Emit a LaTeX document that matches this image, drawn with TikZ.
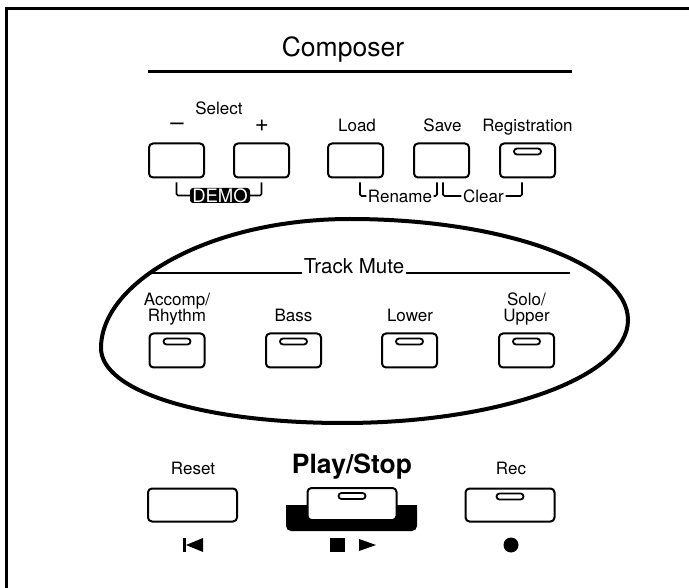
\documentclass[tikz,border=0pt]{standalone}
\usepackage{fontspec}
\setmainfont{TeX Gyre Heros}
\begin{document}
\begin{tikzpicture}[x=1pt,y=-1pt,
  btn/.style={draw,line width=2pt,rounded corners=4pt,fill=white,minimum width=55pt,minimum height=34pt,inner sep=0pt},
  wbtn/.style={btn,minimum width=89pt,minimum height=33pt},
  slot/.style={draw,line width=1.8pt,rounded corners=3pt,minimum width=27pt,minimum height=6pt,inner sep=0pt},
  lbl/.style={font=\fontsize{17}{17}\selectfont,inner sep=0pt,anchor=base},
  brk/.style={line width=1.6pt,rounded corners=1.5pt},
  gline/.style={line width=1.5pt}]
\useasboundingbox (0,0) rectangle (689,588);
% frame
\draw[line width=3pt] (689,8.5) -- (6.5,8.5) -- (6.5,588);
% title
\node[font=\fontsize{26.5}{26.5}\selectfont,inner sep=0pt,anchor=base] (title) at (343,57) {Composer};
\coordinate (tl) at (148,72);
\coordinate (tr) at (572,72);
\draw[line width=3pt] (tl) -- (tr);
% Select group
\node[lbl] (select) at (219,115) {Select};
\node[font=\fontsize{24}{24}\selectfont,inner sep=0pt] (minus) at (177,127) {–};
\node[font=\fontsize{24}{24}\selectfont,inner sep=0pt] (plus) at (262,126) {+};
\node[btn] (selm) at (176.5,160.5) {};
\node[btn] (selp) at (261.5,160.5) {};
\node[fill=black,text=white,rounded corners=3pt,inner sep=0pt,minimum width=60pt,minimum height=15pt,font=\fontsize{18.5}{18.5}\selectfont] (demo) at (220,195.5) {DEMO};
\draw[brk] ([yshift=-4pt]selm.south) |- (demo.west);
\draw[brk] ([yshift=-4pt]selp.south) |- (demo.east);
% Load / Save / Registration
\node[lbl] (loadl) at (357,132) {Load};
\node[lbl] (savel) at (442.5,132) {Save};
\node[lbl] (regl) at (527.5,132) {Registration};
\node[btn] (load) at (355.5,160.5) {};
\node[btn] (save) at (441.5,160.5) {};
\node[btn] (reg) at (527.5,160.5) {};
\node[slot] (regs) at ([yshift=-9pt]reg.north) {};
\node[font=\fontsize{17}{17}\selectfont,inner sep=1.5pt] (rename) at (400,196) {Rename};
\node[font=\fontsize{17}{17}\selectfont,inner sep=1.5pt] (clear) at (483.5,196) {Clear};
\draw[brk] ([xshift=4.5pt,yshift=-4pt]load.south) |- (rename.west);
\draw[brk] ([xshift=-4.5pt,yshift=-4pt]save.south) |- (rename.east);
\draw[brk] ([xshift=1.5pt,yshift=-4pt]save.south) |- (clear.west);
\draw[brk] ([xshift=-5.5pt,yshift=-4pt]reg.south) |- (clear.east);
% Track Mute ellipse
\draw[line width=4pt] (628,320)
  .. controls (628,264) and (503,219) .. (350,219)
  .. controls (210,219) and (101,282) .. (101,348)
  .. controls (101,392) and (205,423) .. (343,423)
  .. controls (500,423) and (628,377) .. (628,320) -- cycle;
\node[font=\fontsize{20.5}{20.5}\selectfont,inner sep=2pt,anchor=base] (tm) at (354,274) {Track Mute};
\coordinate (tmL) at (148,273);
\coordinate (tmR) at (570,273);
\draw[gline] (tmL) -- (tmL -| tm.west);
\draw[gline] (tmR) -- (tmR -| tm.east);
\node[lbl] (accA) at (177,306) {Accomp/};
\node[lbl] (accB) at (177,322) {Rhythm};
\node[lbl] (bassl) at (293.5,322) {Bass};
\node[lbl] (lowerl) at (410,322) {Lower};
\node[lbl] (soloA) at (526.5,306) {Solo/};
\node[lbl] (soloB) at (526.5,322) {Upper};
\node[btn] (acc) at (177,350.5) {};
\node[btn] (bass) at (293.5,350.5) {};
\node[btn] (lower) at (409.5,350.5) {};
\node[btn] (solo) at (526.5,350.5) {};
\node[slot] (accs) at ([yshift=-9pt]acc.north) {};
\node[slot] (basss) at ([yshift=-9pt]bass.north) {};
\node[slot] (lowers) at ([yshift=-9pt]lower.north) {};
\node[slot] (solos) at ([yshift=-9pt]solo.north) {};
% bottom row
\node[lbl] (resetl) at (193,474) {Reset};
\node[font=\fontsize{26.5}{26.5}\selectfont\bfseries,inner sep=0pt,anchor=base] (playl) at (352,473) {Play/Stop};
\node[lbl] (recl) at (511,474) {Rec};
\node[wbtn] (reset) at (192.5,505) {};
\fill (286,505) -- (286,520) [rounded corners=5pt] -- (286,531) -- (417,531) [sharp corners] -- (417,520) -- (417,505) -- cycle;
\node[wbtn,minimum height=32pt] (play) at (352,504) {};
\node[wbtn] (rec) at (510,505) {};
\node[slot] (plays) at ([yshift=-9pt]play.north) {};
\node[slot] (recs) at ([yshift=-9pt]rec.north) {};
% symbols
\fill (183,538) rectangle (186,552);
\fill (186,545) -- (203,538) -- (203,552) -- cycle;
\fill (330,538) rectangle (345,552);
\fill (376,545) -- (359,539) -- (359,551) -- cycle;
\fill (511,545) circle (7.5);
\end{tikzpicture}
\end{document}
